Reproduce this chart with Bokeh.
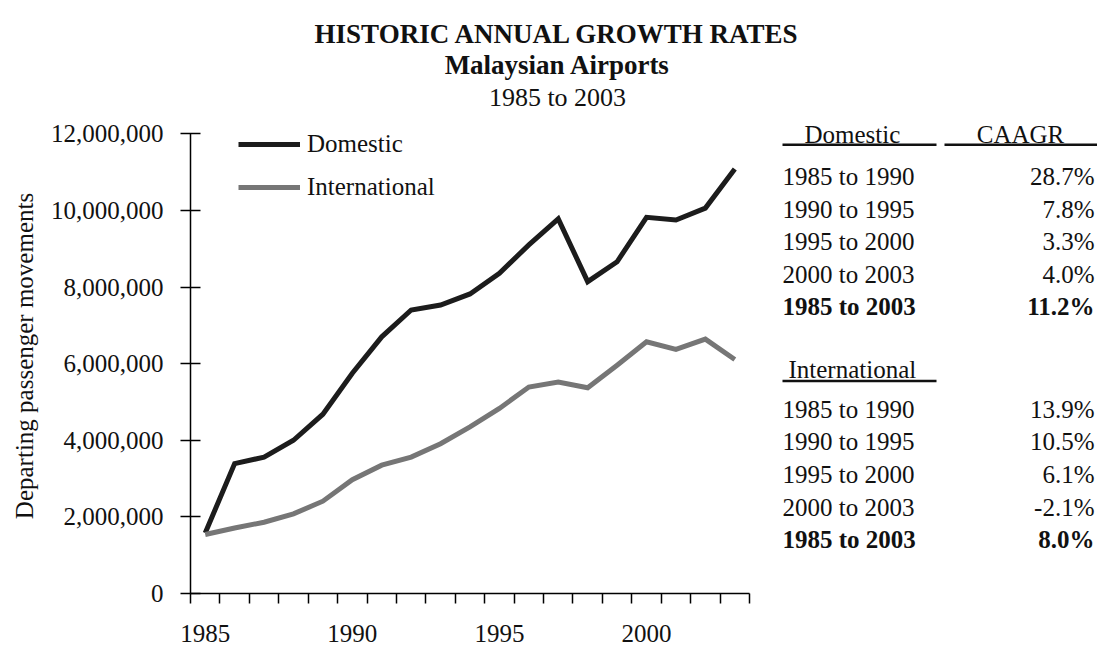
from bokeh.plotting import figure
from bokeh.layouts import column, row
from bokeh.models import (Range1d, FixedTicker, NumeralTickFormatter, LinearAxis,
                          Legend, LegendItem, ColumnDataSource, BasicTickFormatter)
from bokeh.core.properties import value
from bokeh.embed import file_html
from bokeh.resources import INLINE

# ---------------- data ----------------
years = list(range(1985, 2004))
domestic = [1580000, 3390000, 3560000, 4000000, 4680000, 5750000, 6700000, 7400000,
            7530000, 7820000, 8360000, 9100000, 9780000, 8140000, 8660000, 9820000,
            9750000, 10060000, 11080000]
international = [1540000, 1710000, 1860000, 2080000, 2410000, 2970000, 3350000, 3560000,
                 3910000, 4350000, 4830000, 5390000, 5520000, 5370000, 5960000, 6570000,
                 6370000, 6640000, 6110000]
y_ticks = [0, 2000000, 4000000, 6000000, 8000000, 10000000, 12000000]
x_label_years = [1985, 1990, 1995, 2000]
series_names = ["Domestic", "International"]

title_lines = ["HISTORIC ANNUAL GROWTH RATES", "Malaysian Airports", "1985 to 2003"]
y_axis_title = "Departing passenger movements"

periods = ["1985 to 1990", "1990 to 1995", "1995 to 2000", "2000 to 2003", "1985 to 2003"]
dom_caagr = [28.7, 7.8, 3.3, 4.0, 11.2]
int_caagr = [13.9, 10.5, 6.1, -2.1, 8.0]
table_headers = ["Domestic", "CAAGR", "International"]

FONT = "Liberation Serif"
DOM_COLOR = "#1c1c1c"
INT_COLOR = "#767676"
TXT = "#111111"
TOTAL_W, TOTAL_H = 1097, 652
TITLE_H = 118
MAIN_W = 760

# ---------------- title ----------------
tf = figure(width=TOTAL_W, height=TITLE_H, x_range=Range1d(0, TOTAL_W), y_range=Range1d(TITLE_H, 0),
            output_backend="svg", toolbar_location=None, x_axis_location=None, y_axis_location=None,
            min_border=0, outline_line_color=None)
tf.grid.visible = False
tsrc = ColumnDataSource(dict(x=[557] * 3, y=[33, 64, 97], t=title_lines,
                             st=["bold", "bold", "normal"], fs=["27px", "27px", "26px"]))
tf.text(x="x", y="y", text="t", source=tsrc, text_font=value(FONT), text_font_style="st",
        text_font_size="fs", text_align="center", text_baseline="alphabetic", text_color=TXT)

# ---------------- main chart ----------------
y_top = y_ticks[-1] * 1.0333  # a little headroom so the legend sits inside the frame
p = figure(width=MAIN_W, height=TOTAL_H - TITLE_H,
           x_range=Range1d(years[0] - 0.5, years[-1] + 0.5), y_range=Range1d(0, y_top),
           output_backend="svg", toolbar_location=None, x_axis_location=None, y_axis_location=None,
           min_border_left=190, min_border_right=11, min_border_top=0, min_border_bottom=59,
           outline_line_color=None)
p.grid.visible = False

r1 = p.line(years, domestic, line_color=DOM_COLOR, line_width=5, line_join="miter")
r2 = p.line(years, international, line_color=INT_COLOR, line_width=5, line_join="miter")

yax = LinearAxis(ticker=FixedTicker(ticks=y_ticks, minor_ticks=[]), bounds=(0, y_ticks[-1]),
                 formatter=NumeralTickFormatter(format="0,0"),
                 axis_label=y_axis_title, axis_label_standoff=10,
                 axis_label_text_font=FONT, axis_label_text_font_style="normal",
                 axis_label_text_font_size="25px", axis_label_text_color=TXT,
                 major_label_text_font=FONT, major_label_text_font_size="25px",
                 major_label_text_color=TXT, major_label_standoff=17,
                 major_tick_in=10, major_tick_out=10, major_tick_line_width=1.5,
                 axis_line_width=1.5, minor_tick_line_color=None)
p.add_layout(yax, "left")

bounds = [y - 0.5 for y in years] + [years[-1] + 0.5]
xax1 = LinearAxis(ticker=FixedTicker(ticks=bounds, minor_ticks=[]),
                  major_tick_in=0, major_tick_out=10, major_tick_line_width=1.5,
                  axis_line_width=1.5, minor_tick_line_color=None,
                  major_label_text_font_size="0px", major_label_standoff=0,
                  major_label_text_color=None)
p.add_layout(xax1, "below")
xax2 = LinearAxis(ticker=FixedTicker(ticks=x_label_years, minor_ticks=[]),
                  formatter=BasicTickFormatter(use_scientific=False),
                  axis_line_color=None, major_tick_line_color=None, minor_tick_line_color=None,
                  major_tick_in=0, major_tick_out=0, major_label_standoff=21,
                  major_label_text_font=FONT, major_label_text_font_size="25px",
                  major_label_text_color=TXT)
p.add_layout(xax2, "below")

legend = Legend(items=[LegendItem(label=series_names[0], renderers=[r1]),
                       LegendItem(label=series_names[1], renderers=[r2])],
                location=(48, 392), orientation="vertical", glyph_width=62, glyph_height=20,
                label_height=20, label_standoff=7, spacing=15, padding=0, margin=0,
                border_line_color=None, background_fill_alpha=0,
                label_text_font=FONT, label_text_font_size="25px", label_text_color=TXT)
p.add_layout(legend)

# ---------------- CAAGR table ----------------
TB_W = TOTAL_W - MAIN_W
tb = figure(width=TB_W, height=TOTAL_H - TITLE_H, x_range=Range1d(MAIN_W, TOTAL_W),
            y_range=Range1d(TOTAL_H, TITLE_H), output_backend="svg", toolbar_location=None,
            x_axis_location=None, y_axis_location=None, min_border=0, outline_line_color=None)
tb.grid.visible = False

left_x, right_x = 782, 1094
step = 36.6
dom_y0, int_y0 = 183.5, 445
n = len(periods)
styles = ["normal"] * (n - 1) + ["bold"]
rows_y = [dom_y0 + i * step for i in range(n)] + [int_y0 + i * step for i in range(n)]
src = ColumnDataSource(dict(
    xl=[left_x] * (2 * n), xr=[right_x] * (2 * n), y=rows_y,
    per=periods + periods,
    val=[f"{v:.1f}%" for v in dom_caagr] + [f"{v:.1f}%" for v in int_caagr],
    st=styles + styles))
tb.text(x="xl", y="y", text="per", source=src, text_font=value(FONT), text_font_style="st",
        text_font_size="25px", text_align="left", text_baseline="middle", text_color=TXT)
tb.text(x="xr", y="y", text="val", source=src, text_font=value(FONT), text_font_style="st",
        text_font_size="25px", text_align="right", text_baseline="middle", text_color=TXT)

hsrc = ColumnDataSource(dict(x=[804, 1020, 788], y=[136, 136, 400], t=table_headers,
                             al=["left", "center", "left"]))
tb.text(x="x", y="y", text="t", source=hsrc, text_font=value(FONT), text_font_size="25px",
        text_align="al", text_baseline="middle", text_color=TXT)
tb.segment(x0=[782, 944, 782], y0=[147.5, 147.5, 413], x1=[936, 1097, 936], y1=[147.5, 147.5, 413],
           line_color=TXT, line_width=2.5)

layout = column(tf, row(p, tb))
open("out.html", "w").write(file_html(layout, INLINE))
